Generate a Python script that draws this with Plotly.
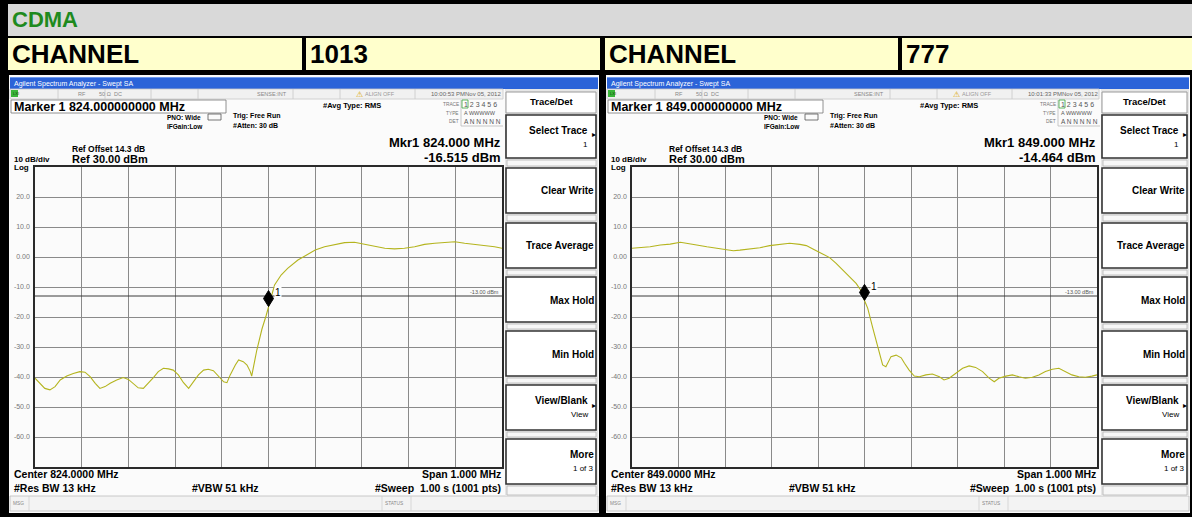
import plotly.graph_objects as go

W, H = 1192, 517
FONT = "Liberation Sans, Arial, sans-serif"

# ---------------- data ----------------
header_title = "CDMA"
channel_label = "CHANNEL"
channels = ["1013", "777"]
center_mhz = [824.0, 849.0]
span_mhz = 1.0
ref_level = 30.0
db_per_div = 10
limit_level = -13.0
marker_freq = [824.0, 849.0]
marker_level = [-16.515, -14.464]
timestamps = ["10:00:53 PMNov 05, 2012", "10:01:33 PMNov 05, 2012"]
y_tick_vals = [20, 10, 0, -10, -20, -30, -40, -50, -60]
y_tick_text = ["20.0", "10.0", "0.00", "-10.0", "-20.0", "-30.0", "-40.0", "-50.0", "-60.0"]

left_freq = [823.500, 823.511, 823.521, 823.532, 823.543, 823.554, 823.568, 823.582, 823.596, 823.607,
             823.618, 823.629, 823.639, 823.650, 823.661, 823.675, 823.689, 823.700, 823.711, 823.721,
             823.732, 823.743, 823.754, 823.764, 823.775, 823.786, 823.796, 823.807, 823.818, 823.829,
             823.839, 823.850, 823.861, 823.871, 823.882, 823.893, 823.904, 823.911, 823.918, 823.929,
             823.936, 823.946, 823.954, 823.961, 823.964, 823.975, 823.986, 823.995, 824.000, 824.013,
             824.027, 824.041, 824.063, 824.084, 824.100, 824.120, 824.141, 824.163, 824.184, 824.206,
             824.227, 824.249, 824.270, 824.291, 824.313, 824.334, 824.356, 824.377, 824.399, 824.420,
             824.441, 824.463, 824.484, 824.500]
left_level = [-40.4, -42.1, -43.8, -44.3, -43.2, -41.0, -39.7, -38.8, -38.2, -38.4,
              -39.9, -42.1, -43.8, -43.2, -42.1, -41.0, -40.2, -40.8, -42.3, -43.6,
              -43.8, -42.1, -40.1, -38.2, -37.1, -37.3, -37.7, -39.3, -41.9, -43.8,
              -41.6, -39.3, -37.7, -37.4, -37.9, -39.7, -41.6, -41.9, -39.3, -36.0,
              -34.3, -34.9, -36.0, -38.2, -39.7, -31.0, -24.0, -19.5, -16.5, -9.3,
              -6.0, -3.8, -1.0, 0.9, 2.3, 3.4, 4.2, 4.8, 4.9, 4.2,
              3.4, 2.9, 2.7, 2.9, 3.4, 4.2, 4.6, 4.9, 5.1, 4.6,
              4.2, 4.0, 3.4, 2.9]

right_freq = [848.500, 848.518, 848.539, 848.561, 848.582, 848.604, 848.618, 848.639, 848.661, 848.682,
              848.704, 848.718, 848.732, 848.754, 848.775, 848.796, 848.818, 848.839, 848.861, 848.875,
              848.889, 848.907, 848.925, 848.939, 848.954, 848.968, 848.982, 848.996, 849.000, 849.007,
              849.018, 849.029, 849.039, 849.046, 849.057, 849.068, 849.079, 849.086, 849.096, 849.107,
              849.118, 849.132, 849.146, 849.161, 849.171, 849.182, 849.196, 849.211, 849.225, 849.239,
              849.254, 849.268, 849.279, 849.289, 849.304, 849.318, 849.332, 849.346, 849.361, 849.375,
              849.389, 849.404, 849.418, 849.432, 849.446, 849.461, 849.475, 849.489, 849.500]
right_level = [2.9, 3.1, 3.4, 4.0, 4.3, 4.9, 4.6, 4.0, 3.4, 2.9,
               2.6, 2.1, 2.3, 2.7, 3.1, 3.8, 4.2, 4.6, 4.2, 3.8,
               2.7, 1.2, -0.2, -2.1, -4.3, -6.6, -8.8, -12.0, -14.5, -17.1,
               -23.8, -30.4, -36.0, -36.6, -33.2, -32.7, -33.6, -35.4, -37.7, -39.7,
               -39.9, -39.3, -39.0, -39.9, -41.0, -40.4, -38.8, -37.1, -36.3, -36.8,
               -38.2, -40.4, -41.6, -40.4, -39.7, -39.3, -39.9, -40.4, -40.1, -39.3,
               -38.2, -37.4, -37.1, -38.2, -39.3, -39.9, -40.1, -39.7, -39.3]

softkeys = [("Select Trace", "1", True), ("Clear Write", "", False), ("Trace Average", "", False),
            ("Max Hold", "", False), ("Min Hold", "", False), ("View/Blank", "View", True),
            ("More", "1 of 3", False)]

# ---------------- helpers (pixel -> paper) ----------------
shapes, annots = [], []


def X(px):
    return px / W


def Y(py):
    return 1 - py / H


def rect(x0, y0, x1, y1, fill=None, line=None, lw=1):
    shapes.append(dict(type="rect", xref="paper", yref="paper", x0=X(x0), x1=X(x1), y0=Y(y1), y1=Y(y0),
                       fillcolor=fill or "rgba(0,0,0,0)",
                       line=dict(color=line or "rgba(0,0,0,0)", width=lw if line else 0), layer="below"))


def hline(x0, x1, y, color, lw=1):
    shapes.append(dict(type="line", xref="paper", yref="paper", x0=X(x0), x1=X(x1), y0=Y(y), y1=Y(y),
                       line=dict(color=color, width=lw), layer="below"))


def vline(x, y0, y1, color, lw=1):
    shapes.append(dict(type="line", xref="paper", yref="paper", x0=X(x), x1=X(x), y0=Y(y0), y1=Y(y1),
                       line=dict(color=color, width=lw), layer="below"))


def text(x, y, s, size, color="black", bold=False, anchor="left"):
    annots.append(dict(xref="paper", yref="paper", x=X(x), y=Y(y), text=f"<b>{s}</b>" if bold else s,
                       showarrow=False, xanchor=anchor, yanchor="middle", borderpad=0,
                       font=dict(size=size, color=color, family=FONT)))


# ---------------- header rows ----------------
rect(8, 4, 1192, 36, fill="#d9d9d9")
text(11, 20, header_title, 22, "#1e8a1e", bold=True)
cells = [(8, 302, channel_label), (306, 600, channels[0]), (605, 898, channel_label), (902, 1192, channels[1])]
for x0, x1, s in cells:
    rect(x0, 38, x1, 70, fill="#ffffcc")
    text(x0 + 3, 54, s, 26, "black", bold=True)

fig = go.Figure()


def panel(i, dx, sk_x0, sk_x1, px0, px1, freq, level):
    xa = "x" if i == 0 else "x2"
    ya = "y" if i == 0 else "y2"
    # base
    rect(dx + 9, 75, sk_x1 + 1, 513, fill="#fbfbfb")
    rect(dx + 10, 77, sk_x1, 89, fill="#2b63d8")
    hline(dx + 10, sk_x1, 77.5, "#6d9af0", 1)
    text(dx + 13, 83.5, "Agilent Spectrum Analyzer - Swept SA", 7, "white")
    # status row
    rect(dx + 10, 89, sk_x0 - 2, 99, fill="#f1f1f1", line="#c9c9c9", lw=0.8)
    for sx in [58, 105, 151, 198, 293, 340, 415]:
        vline(dx + sx, 89, 99, "#c9c9c9", 0.8)
    rect(dx + 11, 90, dx + 18, 97, fill="#39b539")
    text(dx + 11.5, 93.5, "LXI", 4, "#114411")
    text(dx + 77, 94, "RF", 5.5, "#888")
    text(dx + 98, 94, "50 Ω", 5.5, "#888")
    text(dx + 113, 94, "DC", 5.5, "#888")
    text(dx + 256, 94, "SENSE:INT", 5.5, "#888")
    text(dx + 355, 94, "⚠", 8, "#d9a400")
    text(dx + 364, 94, "ALIGN OFF", 5.5, "#999")
    text(dx + 502, 94, timestamps[i], 6, "#666", anchor="right")
    # marker box
    rect(dx + 11, 100, dx + 226, 113, fill="#ffffff", line="#777", lw=0.8)
    text(dx + 13, 106.5, f"Marker 1 {marker_freq[i]:.9f} MHz", 12.5, "black", bold=True)
    text(dx + 166, 117, "PNO: Wide", 6.5, "black", bold=True)
    shapes.append(dict(type="rect", xref="paper", yref="paper", x0=X(dx + 208), x1=X(dx + 221),
                       y0=Y(120), y1=Y(114), line=dict(color="#555", width=0.8), layer="below"))
    text(dx + 166, 126.5, "IFGain:Low", 6.5, "black", bold=True)
    text(dx + 232, 116, "Trig: Free Run", 7, "black", bold=True)
    text(dx + 232, 125.5, "#Atten: 30 dB", 7, "black", bold=True)
    text(dx + 322, 105.5, "#Avg Type: RMS", 7.5, "black", bold=True)
    # trace block
    vline(dx + 461, 100, 126, "#bbb", 0.8)
    hline(dx + 461, dx + 503, 126, "#bbb", 0.8)
    text(dx + 460, 104, "TRACE", 4.8, "#777", anchor="right")
    text(dx + 460, 113, "TYPE", 4.8, "#777", anchor="right")
    text(dx + 460, 121.5, "DET", 4.8, "#777", anchor="right")
    rect(dx + 462, 100, dx + 468, 108, fill="#ffffff", line="#3aa33a", lw=0.8)
    text(dx + 463, 104, "1 2 3 4 5 6", 7, "#555")
    text(dx + 463, 113, "A WWWWW", 5.5, "#555")
    text(dx + 463, 121.5, "A N N N N N", 6.5, "#555")
    # marker readout
    text(px1, 142.5, f"Mkr1 {marker_freq[i]:.3f} MHz", 13, "black", bold=True, anchor="right")
    text(px1, 157.5, f"{marker_level[i]:.3f} dBm", 13, "black", bold=True, anchor="right")
    text(dx + 71, 148.5, "Ref Offset 14.3 dB", 8.5, "black", bold=True)
    text(dx + 71, 159, f"Ref {ref_level:.2f} dBm", 11, "black", bold=True)
    text(dx + 13, 159.5, f"{db_per_div} dB/div", 8, "black", bold=True)
    text(dx + 13, 167, "Log", 8, "black", bold=True)
    # bottom texts
    text(dx + 13, 474, f"Center {center_mhz[i]:.4f} MHz", 10.5, "black", bold=True)
    text(dx + 13, 487.5, "#Res BW 13 kHz", 10.5, "black", bold=True)
    text(dx + 191, 487.5, "#VBW 51 kHz", 10.5, "black", bold=True)
    text(px1, 474, f"Span {span_mhz:.3f} MHz", 10.5, "black", bold=True, anchor="right")
    text(px1, 487.5, "#Sweep  1.00 s (1001 pts)", 10.5, "black", bold=True, anchor="right")
    # msg / status bar
    rect(dx + 10, 496, sk_x1, 511, fill="#f3f3f3", line="#bdbdbd", lw=0.8)
    vline(dx + 29, 496, 511, "#cfcfcf", 0.8)
    vline(dx + 382, 496, 511, "#cfcfcf", 0.8)
    vline(dx + 411, 496, 511, "#cfcfcf", 0.8)
    text(dx + 12, 503.5, "MSG", 4.8, "#888")
    text(dx + 384, 503.5, "STATUS", 4.8, "#888")
    # softkey column
    rect(sk_x0, 89, sk_x1, 496, fill="#e6e6e6")
    rect(sk_x0 + 1, 92, sk_x1 - 2, 113, fill="#ffffff", line="#9a9a9a", lw=1)
    text((sk_x0 + sk_x1) / 2, 102, "Trace/Det", 9.5, "black", bold=True, anchor="center")
    tops = [115, 168, 223, 277, 331, 385, 439]
    for k, (lab, sub, arrow) in enumerate(softkeys):
        t = tops[k]
        b = t + (43 if k == 0 else 45)
        rect(sk_x0 + 1, t, sk_x1 - 2, b, fill="#ffffff", line="#333", lw=1.6)
        nt = tops[k + 1] - 2 if k + 1 < len(tops) else 495
        rect(sk_x0 + 2, b + 2, sk_x1 - 2, nt, fill="#f7f7f7", line="#b5b5b5", lw=0.8)
        rx = sk_x1 - 3
        if sub:
            ly = t + 15
            text(rx - (6 if arrow else 0), ly, lab, 10, "black", bold=True, anchor="right")
            text(rx - (6 if arrow else 0), ly + 14, sub, 8, "black", anchor="right")
            if arrow:
                text(rx + 2, ly + 5, "▸", 8, "black", anchor="right")
        else:
            text(rx, t + 23, lab, 10, "black", bold=True, anchor="right")
    # trace
    fig.add_trace(go.Scatter(x=freq, y=level, mode="lines", xaxis=xa, yaxis=ya,
                             line=dict(color="#b4b41e", width=1.1), hoverinfo="skip"))
    # display line
    shapes.append(dict(type="line", xref=f"{xa} domain", yref=ya, x0=0, x1=1, y0=limit_level, y1=limit_level,
                       line=dict(color="#3a3a3a", width=1)))
    annots.append(dict(xref=f"{xa} domain", yref=ya, x=0.997, y=limit_level, yshift=4, text="-13.00 dBm",
                       showarrow=False, xanchor="right", yanchor="middle",
                       font=dict(size=5.5, color="#555", family=FONT)))
    # marker diamond (bottom tip at marker point)
    shapes.append(dict(type="path", xref=xa, yref=ya, xsizemode="pixel", ysizemode="pixel",
                       xanchor=marker_freq[i], yanchor=marker_level[i],
                       path="M0,0 L5,8 L0,16 L-5,8 Z", fillcolor="black", line=dict(color="black", width=1)))
    annots.append(dict(xref=xa, yref=ya, x=marker_freq[i], y=marker_level[i], xshift=9, yshift=14,
                       text="1", showarrow=False, bgcolor="#ffffff", borderpad=0,
                       font=dict(size=10, color="black", family=FONT)))


panel(0, 0, 505, 598, 35, 502, left_freq, left_level)
panel(1, 597, 1101, 1189, 632, 1097, right_freq, right_level)

axis_common = dict(showgrid=True, gridcolor="#8a8a8a", gridwidth=1, zeroline=False, showline=True,
                   linecolor="#2a2a2a", linewidth=1.5, mirror=True, ticks="", fixedrange=True)
xcommon = dict(axis_common, dtick=0.1, showticklabels=False)
ycommon = dict(axis_common, range=[ref_level - 10 * db_per_div, ref_level], tickvals=y_tick_vals,
               ticktext=y_tick_text, tickfont=dict(size=7, color="#777", family=FONT), ticklabelstandoff=2)

fig.update_layout(
    width=W, height=H, autosize=False, margin=dict(l=0, r=0, t=0, b=0),
    paper_bgcolor="#000000", plot_bgcolor="#ffffff", showlegend=False,
    xaxis=dict(xcommon, domain=[X(35), X(502)], range=[center_mhz[0] - span_mhz / 2, center_mhz[0] + span_mhz / 2],
               tick0=center_mhz[0] - span_mhz / 2, anchor="y"),
    yaxis=dict(ycommon, domain=[Y(467), Y(167)], anchor="x"),
    xaxis2=dict(xcommon, domain=[X(632), X(1097)], range=[center_mhz[1] - span_mhz / 2, center_mhz[1] + span_mhz / 2],
                tick0=center_mhz[1] - span_mhz / 2, anchor="y2"),
    yaxis2=dict(ycommon, domain=[Y(467), Y(167)], anchor="x2"),
    shapes=shapes, annotations=annots,
)

fig.write_html("out.html", config={"displayModeBar": False},
               post_script="document.body.style.margin='0';document.body.style.background='#000';")
